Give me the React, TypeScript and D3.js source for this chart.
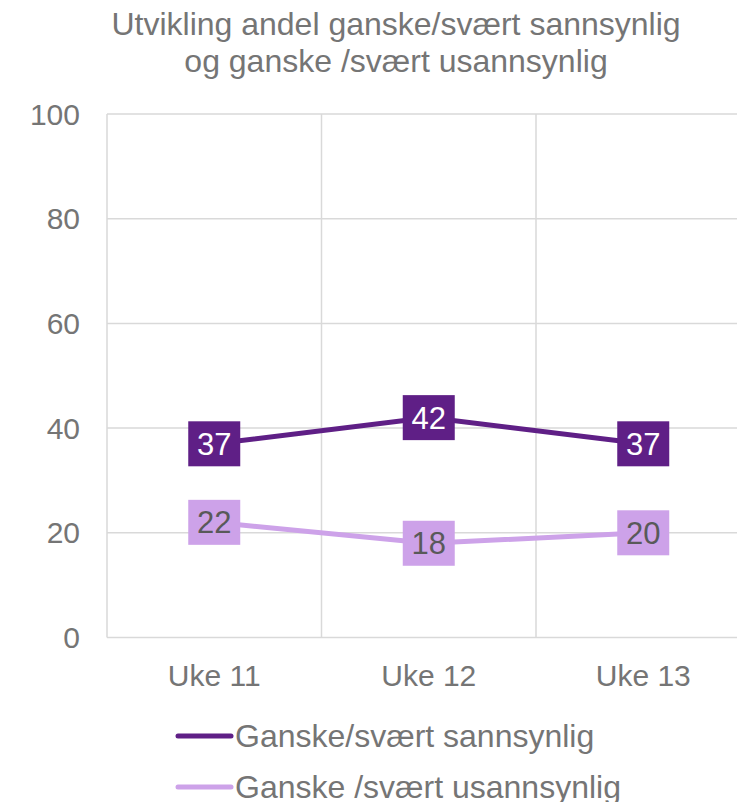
import React from "react";
import * as d3 from "d3";

const categories = ["Uke 11", "Uke 12", "Uke 13"];
const seriesNames = ["Ganske/svært sannsynlig", "Ganske /svært usannsynlig"];
const likely = [37, 42, 37];
const unlikely = [22, 18, 20];
const yTicks = [0, 20, 40, 60, 80, 100];
const titleLines = ["Utvikling andel ganske/svært sannsynlig", "og ganske /svært usannsynlig"];

const DARK = "#5F1F86";
const LIGHT = "#CDA2E9";
const GRID = "#D9D9D9";
const TEXT = "#757575";
const FONT = "'Liberation Sans', Arial, sans-serif";

export default function App() {
  const W = 737, H = 802;
  const x = d3.scaleBand<string>().domain(categories).range([107, 750.5]);
  const y = d3.scaleLinear().domain([0, 100]).range([637.5, 114]);
  const cx = (c: string) => (x(c) as number) + x.bandwidth() / 2;
  const line = d3.line<number>().x((_, i) => cx(categories[i])).y((v) => y(v));

  const series = [
    { name: seriesNames[0], values: likely, color: DARK, labelColor: "#FFFFFF" },
    { name: seriesNames[1], values: unlikely, color: LIGHT, labelColor: "#595959" },
  ];

  const bounds = [...categories.map((c) => x(c) as number), 750.5];

  return (
    <svg width={W} height={H} style={{ position: "absolute", left: 0, top: 0, background: "#fff" }} fontFamily={FONT}>
      {titleLines.map((t, i) => (
        <text key={t} x={396} y={35 + i * 37} textAnchor="middle" fontSize={32} fill={TEXT}>{t}</text>
      ))}
      {yTicks.map((t) => (
        <g key={t}>
          <line x1={107} x2={750.5} y1={y(t)} y2={y(t)} stroke={GRID} strokeWidth={1.5} />
          <text x={80} y={y(t)} dy="0.35em" textAnchor="end" fontSize={30} fill={TEXT}>{t}</text>
        </g>
      ))}
      {bounds.map((b, i) => (
        <line key={i} x1={b} x2={b} y1={y(100)} y2={y(0)} stroke={GRID} strokeWidth={1.5} />
      ))}
      {categories.map((c) => (
        <text key={c} x={cx(c)} y={686} textAnchor="middle" fontSize={30} fill={TEXT}>{c}</text>
      ))}
      {series.map((s) => (
        <g key={s.name}>
          <path d={line(s.values) || ""} fill="none" stroke={s.color} strokeWidth={5} />
          {s.values.map((v, i) => (
            <g key={i}>
              <rect x={cx(categories[i]) - 26} y={y(v) - 22.5} width={52} height={45} fill={s.color} />
              <text x={cx(categories[i])} y={y(v)} dy="0.36em" textAnchor="middle" fontSize={31} fill={s.labelColor}>{v}</text>
            </g>
          ))}
        </g>
      ))}
      {series.map((s, i) => (
        <g key={s.name} transform={`translate(0, ${736 + i * 51})`}>
          <line x1={178} x2={231} y1={0} y2={0} stroke={s.color} strokeWidth={5} strokeLinecap="round" />
          <text x={235} y={0} dy="0.33em" fontSize={32} fill={TEXT}>{s.name}</text>
        </g>
      ))}
    </svg>
  );
}
